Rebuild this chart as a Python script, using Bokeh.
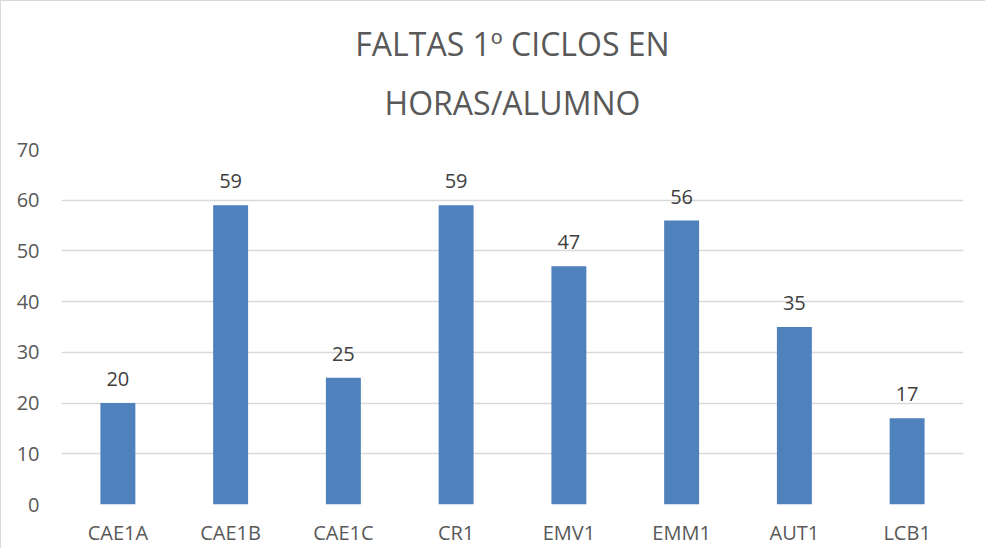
from bokeh.plotting import figure
from bokeh.models import ColumnDataSource, Title, LabelSet, SingleIntervalTicker
from bokeh.core.properties import value
from bokeh.embed import file_html
from bokeh.resources import INLINE

categories = ["CAE1A", "CAE1B", "CAE1C", "CR1", "EMV1", "EMM1", "AUT1", "LCB1"]
values = [20, 59, 25, 59, 47, 56, 35, 17]
title_lines = ["FALTAS 1º CICLOS EN", "HORAS/ALUMNO"]

FONT = "Open Sans"
GRAY = "#595959"

src = ColumnDataSource(dict(cat=categories, val=values, lab=[str(v) for v in values]))

W, H = 985, 548
LEFT, RIGHT, TOP, BOTTOM = 60, 23, 148, 45
p = figure(x_range=categories, y_range=(0, 70), width=W, height=H,
           output_backend="svg", toolbar_location=None,
           min_border_left=LEFT, min_border_right=RIGHT, min_border_top=TOP,
           min_border_bottom=BOTTOM)
p.styles = {"border-left": "1px solid #d9d9d9", "border-top": "1px solid #d9d9d9"}

p.vbar(x="cat", top="val", width=0.31, source=src, color="#4F81BD", line_color=None)

labels = LabelSet(x="cat", y="val", text="lab", source=src, text_align="center",
                  text_baseline="bottom", y_offset=17, text_font=value(FONT),
                  text_font_size="20px", text_color="#404040")
p.add_layout(labels)

standoffs = [-25, 52]
for t, s in reversed(list(zip(title_lines, standoffs))):
    p.add_layout(Title(text=t, align="center", text_font=FONT, text_font_size="32px",
                       text_font_style="normal", text_color=GRAY, standoff=s), "above")

p.outline_line_color = None
p.xgrid.grid_line_color = None
p.ygrid.grid_line_color = "#d9d9d9"
p.ygrid.grid_line_width = 1.5
p.yaxis.ticker = SingleIntervalTicker(interval=10)
for ax in (p.xaxis[0], p.yaxis[0]):
    ax.axis_line_color = None
    ax.major_tick_line_color = None
    ax.minor_tick_line_color = None
    ax.major_tick_out = 0
    ax.major_tick_in = 0
    ax.minor_tick_out = 0
    ax.major_label_text_font = FONT
    ax.major_label_text_font_size = "20px"
    ax.major_label_text_color = GRAY
p.yaxis.major_label_standoff = 22
p.xaxis.major_label_standoff = 14
p.x_range.range_padding = 0
p.background_fill_color = "white"
p.border_fill_color = "white"

open("out.html", "w").write(file_html(p, INLINE))
